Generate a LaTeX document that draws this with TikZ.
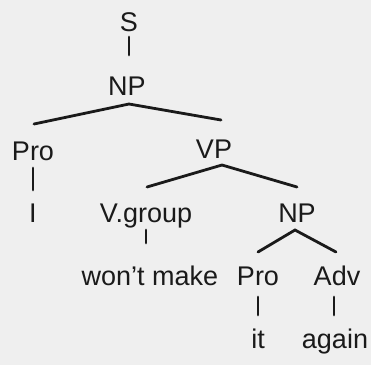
\documentclass[tikz,border=0pt]{standalone}
\usepackage{fontspec}
\setmainfont{Liberation Sans}
\definecolor{ink}{HTML}{1A1A1A}
\definecolor{paper}{HTML}{EFEFEF}
\begin{document}
\begin{tikzpicture}[x=1pt,y=-1pt,
  lbl/.style={anchor=base,inner sep=0pt,text=ink,font=\fontsize{27}{31}\selectfont},
  edge/.style={draw=ink,line width=2.8pt,line cap=round}]
\fill[paper] (0,0) rectangle (371,365);
\useasboundingbox (0,0) rectangle (371,365);
\node[lbl] (S) at (129,31) {S};
\node[lbl] (NPa) at (127,95) {NP};
\node[lbl] (ProA) at (33,160) {Pro};
\node[lbl] (VP) at (214,158) {VP};
\node[lbl] (I) at (33,222) {I};
\node[lbl] (VG) at (146,222) {V.group};
\node[lbl] (NPb) at (297,222) {NP};
\node[lbl] (WM) at (150,285) {won't make};
\node[lbl] (ProB) at (258,285) {Pro};
\node[lbl] (Adv) at (337,285) {Adv};
\node[lbl] (It) at (258,348) {it};
\node[lbl] (Again) at (335,348) {again};
\draw[edge] ([shift={(0,6)}]S.base) -- ([shift={(2,-40)}]NPa.base);
\draw[edge] ([shift={(1,-36)}]ProA.base) -- ([shift={(2,9)}]NPa.base) -- ([shift={(7,-38)}]VP.base);
\draw[edge] ([shift={(0,8)}]ProA.base) -- ([shift={(0,-32)}]I.base);
\draw[edge] ([shift={(1,-35)}]VG.base) -- ([shift={(8,7)}]VP.base) -- ([shift={(0,-35)}]NPb.base);
\draw[edge] ([shift={(0,8)}]VG.base) -- ([shift={(-4,-42)}]WM.base);
\draw[edge] ([shift={(0,-33)}]ProB.base) -- ([shift={(-2,8)}]NPb.base) -- ([shift={(-1,-33)}]Adv.base);
\draw[edge] ([shift={(0,12)}]ProB.base) -- ([shift={(0,-33)}]It.base);
\draw[edge] ([shift={(-3,12)}]Adv.base) -- ([shift={(-1,-33)}]Again.base);
\end{tikzpicture}
\end{document}
